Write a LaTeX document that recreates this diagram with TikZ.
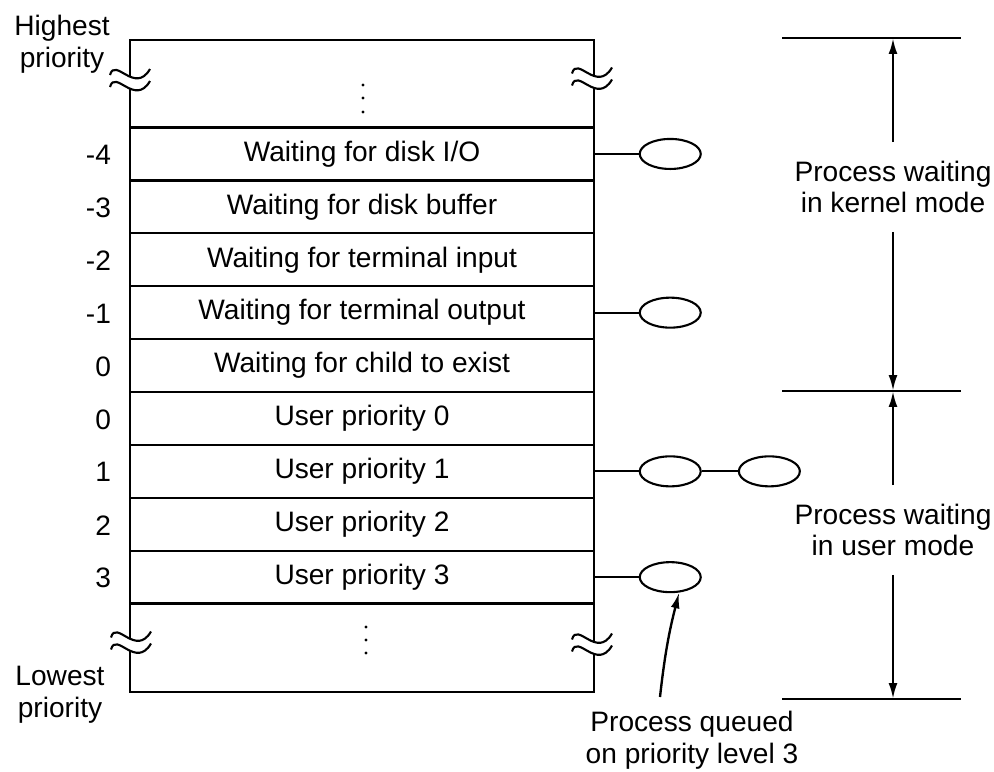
\documentclass[tikz,border=0pt]{standalone}
\usepackage{fontspec}
\setmainfont{Liberation Sans}
\usepackage{tikz}
\usetikzlibrary{positioning, shapes.geometric, arrows.meta}

\begin{document}
\begin{tikzpicture}[line width=1.35pt, >={Latex[length=9pt, width=5pt]},
  every node/.style={font=\fontsize{16}{18}\selectfont},
  level/.style={draw, minimum width=9.28cm, minimum height=1.058cm, inner sep=0pt},
  proc/.style={draw, line width=1.2pt, ellipse, minimum width=1.22cm, minimum height=0.6cm, inner sep=0pt},
  note/.style={align=center, inner ysep=10pt}]
  \useasboundingbox (0,0) rectangle (19.88,-15.44);

  \node[level, minimum height=1.75cm] (top) at (7.24,-1.675) {};
  \node[level, minimum height=1.768cm] (bot) at (7.24,-12.956) {};
  \foreach \i/\p/\t in {1/-4/{Waiting for disk I/O}, 2/-3/{Waiting for disk buffer},
      3/-2/{Waiting for terminal input}, 4/-1/{Waiting for terminal output},
      5/0/{Waiting for child to exist}, 6/0/{User priority 0}, 7/1/{User priority 1},
      8/2/{User priority 2}, 9/3/{User priority 3}} {
    \node[level] (lv\i) at (7.24, -2.021-\i*1.058) {\t};
    \node[anchor=east] (n\i) at (2.36, -2.04-\i*1.058) {\p};
  }

  \foreach \x/\y in {7.26/1.7, 7.26/1.96, 7.26/2.24, 7.32/12.54, 7.32/12.8, 7.32/13.06} {
    \fill (\x,-\y) circle (0.9pt);
  }

  \foreach \bx/\by in {2.6/-1.58, 11.84/-1.55, 2.62/-12.83, 11.84/-12.87} {
    \fill[white] (\bx-0.4,\by+0.08) .. controls (\bx-0.3,\by+0.45) and (\bx+0.1,\by-0.32) .. (\bx+0.4,\by+0.2)
      -- (\bx+0.4,\by-0.04) .. controls (\bx+0.1,\by-0.56) and (\bx-0.3,\by+0.21) .. (\bx-0.4,\by-0.16) -- cycle;
    \draw[line width=1.2pt] (\bx-0.4,\by+0.08) .. controls (\bx-0.3,\by+0.45) and (\bx+0.1,\by-0.32) .. (\bx+0.4,\by+0.2);
    \draw[line width=1.2pt] (\bx-0.4,\by-0.16) .. controls (\bx-0.3,\by+0.21) and (\bx+0.1,\by-0.56) .. (\bx+0.4,\by-0.04);
  }

  \node[align=center] (hi) at (1.24,-0.88) {Highest\\priority};
  \node[align=center] (lo) at (1.2,-13.9) {Lowest\\priority};

  \node[proc, right=0.87cm of lv1] (q1) {};
  \node[proc, right=0.87cm of lv4] (q2) {};
  \node[proc, right=0.87cm of lv7] (q3) {};
  \node[proc, right=0.72cm of q3] (q4) {};
  \node[proc, right=0.87cm of lv9] (q5) {};
  \draw[line width=1.2pt] (lv1.east) -- (q1);
  \draw[line width=1.2pt] (lv4.east) -- (q2);
  \draw[line width=1.2pt] (lv7.east) -- (q3) -- (q4);
  \draw[line width=1.2pt] (lv9.east) -- (q5);

  \foreach \y in {0.76, 7.82, 13.98} {
    \draw (15.64,-\y) -- (19.22,-\y);
  }
  \coordinate (kt) at (17.86,-0.76);
  \coordinate (km) at (17.86,-7.82);
  \coordinate (ub) at (17.86,-13.98);
  \node[note] (kn) at (17.86,-3.74) {Process waiting\\in kernel mode};
  \node[note] (un) at (17.86,-10.6) {Process waiting\\in user mode};
  \draw[->] (kn) -- (kt);
  \draw[->] (kn) -- (km);
  \draw[->] (un) -- (km);
  \draw[->] (un) -- (ub);

  \node[align=center] (ql) at (13.84,-14.8) {Process queued\\on priority level 3};
  \coordinate (qt) at (13.2,-13.94);
  \draw[->] (qt) to[bend left=4] (q5.-60);
\end{tikzpicture}
\end{document}
